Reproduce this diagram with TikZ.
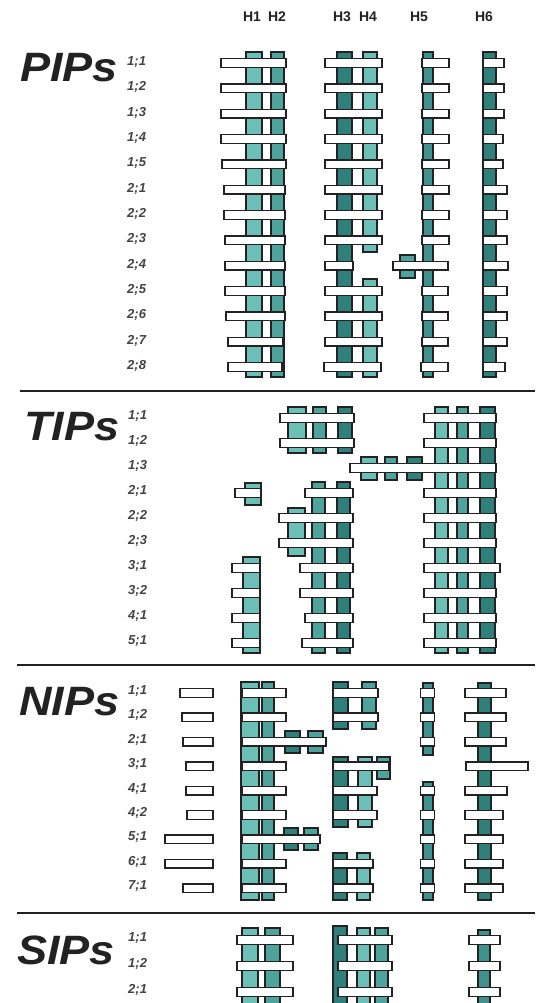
\documentclass[tikz,border=0pt]{standalone}
\usepackage{fontspec}
\setmainfont{Liberation Sans}
\definecolor{tl}{HTML}{6CBFB6}
\definecolor{tm}{HTML}{4FA39D}
\definecolor{td}{HTML}{2F7F7A}
\definecolor{tv}{HTML}{3E918C}
\definecolor{ink}{HTML}{222222}
\newcommand{\vcol}[5]{\draw[colst, fill=#1] (#2,#4) rectangle (#3,#5);}
\newcommand{\hbarr}[3]{\draw[barst] (#1,#3-4.3) rectangle (#2,#3+4.3);}
\begin{document}
\begin{tikzpicture}[x=1pt,y=-1pt,
 colst/.style={draw=ink,line width=1.3pt},
 barst/.style={draw=ink,fill=white,line width=1.35pt},
 title/.style={font=\fontsize{41}{41}\selectfont\bfseries\itshape, anchor=west, inner sep=0pt, text=ink},
 lab/.style={font=\fontsize{13}{13}\selectfont\bfseries\itshape, text=ink!85, anchor=base west, inner sep=0pt},
 head/.style={font=\fontsize{14}{14}\selectfont\bfseries, inner sep=0pt, text=ink},
 divider/.style={draw=ink, line width=1.4pt}]
\useasboundingbox (0,0) rectangle (535,1003);
\clip (0,0) rectangle (535,1003);
\fill[white] (0,0) rectangle (535,1003);

% headers
\node[head] (h1) at (252,17) {H1};
\node[head] (h2) at (277,17) {H2};
\node[head] (h3) at (342,17) {H3};
\node[head] (h4) at (368,17) {H4};
\node[head] (h5) at (419,17) {H5};
\node[head] (h6) at (484,17) {H6};

% ================= PIPs =================
\node[title] (pips) at (20,68) {\scalebox{1.1}[1]{PIPs}};
\foreach \i/\t in {0/1;1,1/1;2,2/1;3,3/1;4,4/1;5,5/2;1,6/2;2,7/2;3,8/2;4,9/2;5,10/2;6,11/2;7,12/2;8}{
  \pgfmathsetmacro\yy{63+25.33*\i+2.5}
  \node[lab] (pl\i) at (127,\yy) {\t};
}
% H1 H2
\vcol{tl}{246}{262}{52}{377}
\vcol{tm}{271}{284}{52}{377}
\foreach \i/\l/\r in {0/221/286,1/221/286,2/221/286,3/221/286,4/222/286,5/224/285,6/224/285,7/225/285,8/225/285,9/225/285,10/226/285,11/228/283,12/228/282}{
  \pgfmathsetmacro\yy{63+25.33*\i}
  \hbarr{\l}{\r}{\yy}
}
% H3 H4
\vcol{td}{337}{352}{52}{377}
\vcol{tl}{363}{377}{52}{252}
\vcol{tl}{363}{377}{279}{377}
\foreach \i/\l/\r in {0/325/382,1/325/382,2/325/382,3/325/382,4/325/382,5/325/382,6/325/382,7/325/382,8/325/353,9/325/382,10/325/382,11/325/382,12/324/381}{
  \pgfmathsetmacro\yy{63+25.33*\i}
  \hbarr{\l}{\r}{\yy}
}
% H5
\vcol{tv}{423}{433}{52}{377}
\vcol{tm}{400}{415}{255}{278}
\foreach \i/\l/\r in {0/422/449,1/422/449,2/422/449,3/422/449,4/422/449,5/422/449,6/422/449,7/422/449,8/393/448,9/422/448,10/422/448,11/422/448,12/421/448}{
  \pgfmathsetmacro\yy{63+25.33*\i}
  \hbarr{\l}{\r}{\yy}
}
% H6
\vcol{td}{483}{496}{52}{377}
\foreach \i/\l/\r in {0/483/504,1/483/504,2/483/504,3/483/503,4/483/503,5/483/507,6/483/507,7/483/507,8/483/508,9/483/507,10/483/507,11/483/507,12/483/505}{
  \pgfmathsetmacro\yy{63+25.33*\i}
  \hbarr{\l}{\r}{\yy}
}

\draw[divider] (20,391) -- (535,391);

% ================= TIPs =================
\node[title] (tips) at (24,427) {\scalebox{1.1}[1]{TIPs}};
\foreach \i/\t in {0/1;1,1/1;2,2/1;3,3/2;1,4/2;2,5/2;3,6/3;1,7/3;2,8/4;1,9/5;1}{
  \pgfmathsetmacro\yy{418+25*\i+1}
  \node[lab] (tl\i) at (128,\yy) {\t};
}
% block A
\vcol{tl}{288}{306}{407}{453}
\vcol{tm}{313}{326}{407}{453}
\vcol{td}{338}{352}{407}{453}
\hbarr{280}{354}{418}
\hbarr{280}{354}{443}
% block B
\vcol{tl}{435}{448}{407}{653}
\vcol{tm}{457}{468}{407}{653}
\vcol{td}{480}{495}{407}{653}
% row 1;3 stubs
\vcol{tl}{361}{377}{457}{480}
\vcol{tm}{385}{397}{457}{480}
\vcol{td}{407}{422}{457}{480}
% middle block
\vcol{tm}{312}{325}{482}{653}
\vcol{td}{337}{350}{482}{653}
\vcol{tl}{288}{305}{508}{556}
\foreach \i/\l in {3/305,4/279,5/279,6/300,7/300,8/305,9/302}{
  \pgfmathsetmacro\yy{418+25*\i}
  \hbarr{\l}{353}{\yy}
}
% block B bars
\foreach \i/\l/\r in {0/424/496,1/424/496,2/350/496,3/424/496,4/424/496,5/424/496,6/424/500,7/424/496,8/424/496,9/424/496}{
  \pgfmathsetmacro\yy{418+25*\i}
  \hbarr{\l}{\r}{\yy}
}
% left pieces
\vcol{tl}{245}{261}{483}{505}
\hbarr{235}{261}{493}
\vcol{tl}{243}{260}{557}{653}
\foreach \i in {6,7,8,9}{
  \pgfmathsetmacro\yy{418+25*\i}
  \hbarr{232}{260}{\yy}
}

\draw[divider] (17,665) -- (535,665);

% ================= NIPs =================
\node[title] (nips) at (19,702) {\scalebox{1.1}[1]{NIPs}};
\foreach \i/\t in {0/1;1,1/1;2,2/2;1,3/3;1,4/4;1,5/4;2,6/5;1,7/6;1,8/7;1}{
  \pgfmathsetmacro\yy{693+24.4*\i+1.5}
  \node[lab] (nl\i) at (128,\yy) {\t};
}
% left boxes
\foreach \i/\l in {0/180,1/182,2/183,3/186,4/186,5/187,6/165,7/165,8/183}{
  \pgfmathsetmacro\yy{693+24.4*\i}
  \hbarr{\l}{213}{\yy}
}
% H1 H2
\vcol{tl}{241}{259}{682}{900}
\vcol{tm}{262}{274}{682}{900}
\vcol{td}{285}{300}{731}{753}
\vcol{tm}{308}{323}{731}{753}
\vcol{td}{284}{298}{828}{850}
\vcol{tm}{304}{318}{828}{850}
\foreach \i/\r in {0/286,1/286,2/326,3/286,4/286,5/286,6/320,7/286,8/286}{
  \pgfmathsetmacro\yy{693+24.4*\i}
  \hbarr{242}{\r}{\yy}
}
% H3 H4
\vcol{td}{333}{348}{682}{729}
\vcol{tm}{362}{376}{682}{729}
\hbarr{333}{378}{693}
\hbarr{333}{378}{717.4}
\vcol{td}{333}{348}{757}{827}
\vcol{tl}{358}{372}{757}{827}
\vcol{tm}{377}{390}{757}{779}
\hbarr{333}{389}{766.2}
\hbarr{333}{377}{790.6}
\hbarr{333}{377}{815}
\vcol{td}{333}{347}{853}{900}
\vcol{tl}{357}{370}{853}{900}
\hbarr{333}{373}{863.8}
\hbarr{333}{373}{888.2}
% H5
\vcol{tv}{423}{433}{683}{755}
\vcol{tv}{423}{433}{782}{900}
\foreach \i in {0,1,2,4,5,6,7,8}{
  \pgfmathsetmacro\yy{693+24.4*\i}
  \hbarr{420.5}{434.5}{\yy}
}
% H6
\vcol{td}{478}{491}{683}{900}
\foreach \i/\l/\r in {0/465/506,1/465/506,2/465/506,3/466/528,4/465/507,5/465/503,6/465/503,7/465/503,8/465/503}{
  \pgfmathsetmacro\yy{693+24.4*\i}
  \hbarr{\l}{\r}{\yy}
}

\draw[divider] (17,913) -- (535,913);

% ================= SIPs =================
\node[title] (sips) at (17,950) {\scalebox{1.1}[1]{SIPs}};
\foreach \i/\t in {0/1;1,1/1;2,2/2;1}{
  \pgfmathsetmacro\yy{940+26*\i+1.5}
  \node[lab] (sl\i) at (128,\yy) {\t};
}
% H1 H2
\vcol{tl}{242}{258}{928}{1010}
\vcol{tm}{265}{280}{928}{1010}
% H3 H4
\vcol{td}{333}{347}{926}{1010}
\vcol{tl}{357}{370}{928}{1010}
\vcol{tm}{375}{388}{928}{1010}
% H6
\vcol{tv}{478}{490}{930}{1010}
\foreach \i in {0,1,2}{
  \pgfmathsetmacro\yy{940+26*\i}
  \hbarr{237}{293}{\yy}
  \hbarr{338}{392}{\yy}
  \hbarr{469}{500}{\yy}
}
\end{tikzpicture}
\end{document}
